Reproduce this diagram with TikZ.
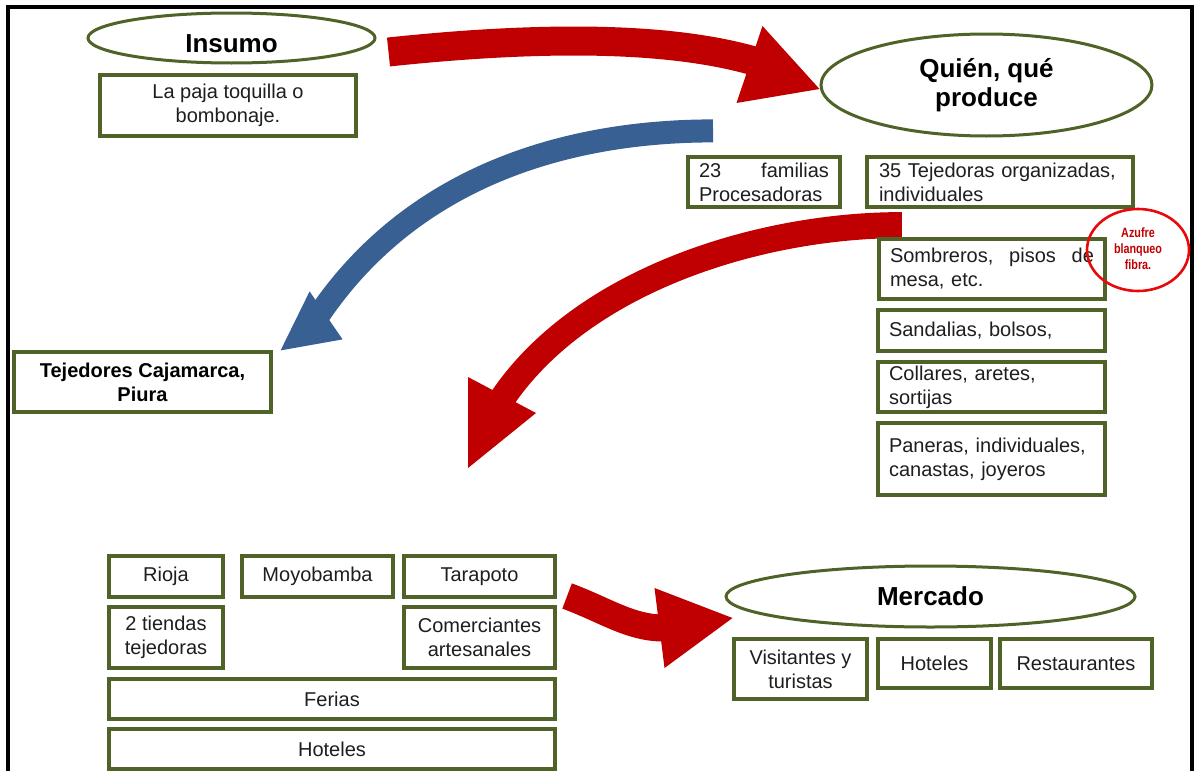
\documentclass[tikz,border=0pt]{standalone}
\usepackage{fontspec}
\setmainfont{Liberation Sans}
\usetikzlibrary{shapes.geometric,calc}
\pgfdeclarelayer{back}
\pgfsetlayers{back,main}
\definecolor{boxgreen}{RGB}{79,98,40}
\definecolor{flowred}{RGB}{192,0,0}
\definecolor{flowblue}{RGB}{56,96,146}
\definecolor{markred}{RGB}{232,10,10}
\definecolor{inktext}{RGB}{30,30,30}

\tikzset{
  cell/.style={draw=boxgreen, line width=3.2pt, fill=white, inner sep=0pt,
    text=inktext, font=\fontsize{20}{24}\selectfont, align=center},
  leftcell/.style={cell, align=left, text width=#1},
  oval/.style={ellipse, draw=boxgreen, line width=3pt, fill=white, inner sep=0pt,
    text=black, font=\fontsize{26}{29}\selectfont\bfseries, align=center},
}

\begin{document}
\begin{tikzpicture}[x=1pt,y=-1pt]
\useasboundingbox (0,0) rectangle (1194,771);

% outer frame
\draw[line width=4pt, line join=miter] (7.5,780) -- (7.5,6.5) -- (1192,6.5) -- (1192,780);

% inputs
\node[oval, minimum width=287pt, minimum height=50pt, text height=29pt] (insumo) at (231.5,38) {Insumo};
\node[cell, minimum width=256pt, minimum height=61pt] (paja) at (228,105.5) {La paja toquilla o\\bombonaje.};

% producers and products
\node[oval, minimum width=331pt, minimum height=102pt] (quien) at (986.5,85) {Quién, qué\\produce};
\node[leftcell=130pt, minimum width=152pt, minimum height=50pt] (familias) at (764,182) {23\hfill familias\\Procesadoras};
\node[leftcell=242pt, minimum width=266pt, minimum height=50pt] (tejedoras) at (1000,182) {35 Tejedoras organizadas,\\individuales};
\node[leftcell=204pt, minimum width=226pt, minimum height=60pt] (sombreros) at (992,269) {Sombreros,\hfill pisos\hfill de\\mesa, etc.};
\node[leftcell=205pt, minimum width=227pt, minimum height=41pt] (sandalias) at (991.5,330.5) {Sandalias, bolsos,};
\node[leftcell=205pt, minimum width=227pt, minimum height=50pt] (collares) at (991.5,387) {Collares, aretes,\\sortijas};
\node[leftcell=205pt, minimum width=227pt, minimum height=72pt] (paneras) at (991.5,459) {Paneras, individuales,\\canastas, joyeros};
\node[ellipse, draw=markred, line width=2.6pt, minimum width=102pt, minimum height=82pt, inner sep=0pt,
      text=flowred, font=\fontsize{13.5}{16}\selectfont\bfseries] (azufre) at (1138,250)
      {\scalebox{0.8}[1]{\begin{tabular}{@{}c@{}}Azufre\\blanqueo\\fibra.\end{tabular}}};

% other weavers
\node[cell, text=black, font=\fontsize{20}{24}\selectfont\bfseries, minimum width=257pt, minimum height=60pt] (cajamarca) at (142.5,382) {Tejedores Cajamarca,\\Piura};

% points of sale
\node[cell, minimum width=114pt, minimum height=41pt] (rioja) at (166,576.5) {Rioja};
\node[cell, minimum width=151pt, minimum height=41pt] (moyobamba) at (317.5,576.5) {Moyobamba};
\node[cell, minimum width=151pt, minimum height=41pt] (tarapoto) at (479.5,576.5) {Tarapoto};
\node[cell, minimum width=114pt, minimum height=61pt] (tiendas) at (166,637.5) {2 tiendas\\tejedoras};
\node[cell, minimum width=151pt, minimum height=61pt] (comerciantes) at (479.5,637.5) {Comerciantes\\artesanales};
\node[cell, minimum width=446pt, minimum height=40pt] (ferias) at (332,699) {Ferias};
\node[cell, minimum width=446pt, minimum height=40pt] (hotelesA) at (332,749) {Hoteles};

% market
\node[oval, minimum width=409pt, minimum height=61pt] (mercado) at (930.5,596.5) {Mercado};
\node[cell, minimum width=133pt, minimum height=60pt] (visitantes) at (800.5,669) {Visitantes y\\turistas};
\node[cell, minimum width=113pt, minimum height=49pt] (hotelesB) at (934.5,663.5) {Hoteles};
\node[cell, minimum width=152pt, minimum height=49pt] (restaurantes) at (1076,663.5) {Restaurantes};

% curved block arrows, kept behind the boxes
\begin{pgfonlayer}{back}
  % Insumo -> Quien, que produce
  \coordinate (r1tail) at ($(insumo.east)+(12,14)$);
  \coordinate (r1tip) at ($(quien.west)+(0,4)$);
  \draw[flowred, line width=29pt] (r1tail) .. controls (540,36) and (670,36) .. ($(r1tip)+(-62,-27)$);
  \fill[flowred] ($(r1tip)+(-57,-63)$) -- (r1tip) -- ($(r1tip)+(-83,14)$) -- cycle;

  % producers -> Tejedores Cajamarca, Piura
  \coordinate (b1tail) at ($(familias.north)+(-51,-24.5)$);
  \coordinate (b1tip) at ($(cajamarca.north east)+(8,0)$);
  \draw[flowblue, line width=23pt] (b1tail) .. controls (560,131) and (410,180) .. ($(b1tip)+(38,-35)$);
  \fill[flowblue] ($(b1tip)+(29,-59)$) -- (b1tip) -- ($(b1tip)+(62,-11)$) -- cycle;

  % weavers -> points of sale
  \coordinate (r2tail) at ($(tejedoras.south west)+(36.5,16.5)$);
  \coordinate (r2tip) at (468,468);
  \draw[flowred, line width=26pt] (r2tail) .. controls (760,225) and (580,280) .. ($(r2tip)+(32,-66)$);
  \fill[flowred] ($(r2tip)+(0,-91)$) -- (r2tip) -- ($(r2tip)+(68,-55)$) -- cycle;

  % points of sale -> Mercado
  \coordinate (r3tail) at ($(tarapoto.east)+(10.5,19.5)$);
  \coordinate (r3tip) at ($(mercado.west)+(8,21.5)$);
  \draw[flowred, line width=27pt] (r3tail) .. controls (605,610) and (630,628) .. ($(r3tip)+(-69,10)$);
  \fill[flowred] ($(r3tip)+(-78,-30)$) -- (r3tip) -- ($(r3tip)+(-68,50)$) -- cycle;
\end{pgfonlayer}
\end{tikzpicture}
\end{document}
